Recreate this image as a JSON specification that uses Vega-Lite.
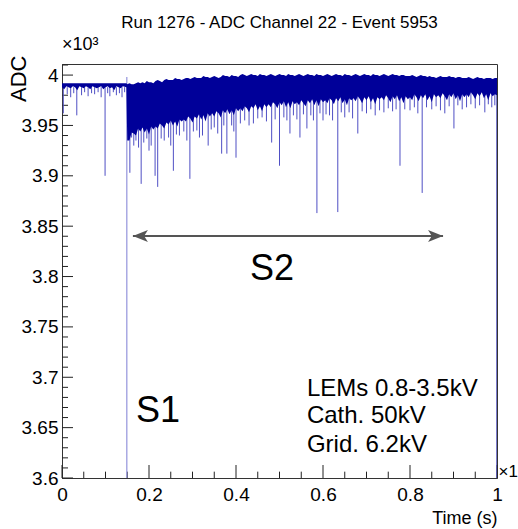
{
"$schema":"https://vega.github.io/schema/vega-lite/v6.json",
"width":435,"height":414,
"autosize":{"type":"none"},
"padding":{"left":62,"top":64,"right":21,"bottom":51},
"background":"white",
"title":{"text":"Run 1276 - ADC Channel 22 - Event 5953","font":"Liberation Sans","fontSize":17,"fontWeight":"normal","color":"black","anchor":"middle","frame":"group","offset":4},
"config":{
 "view":{"stroke":"#333","strokeWidth":1},
 "axis":{"labelFont":"Liberation Sans","labelFontSize":19,"titleFont":"Liberation Sans","titleFontSize":20,"titleFontWeight":"normal","labelColor":"black","titleColor":"black","domainColor":"#333","grid":false,"labelFlush":false,"labelOverlap":false}
},
"datasets":{
 "xmajor":[{"v":0},{"v":0.2},{"v":0.4},{"v":0.6},{"v":0.8},{"v":1}],
 "xminor":[{"v":0.05},{"v":0.1},{"v":0.15},{"v":0.25},{"v":0.3},{"v":0.35},{"v":0.45},{"v":0.5},{"v":0.55},{"v":0.65},{"v":0.7},{"v":0.75},{"v":0.85},{"v":0.9},{"v":0.95}],
 "ymajor":[{"v":3.6},{"v":3.65},{"v":3.7},{"v":3.75},{"v":3.8},{"v":3.85},{"v":3.9},{"v":3.95},{"v":4}],
 "yminor":[{"v":3.61},{"v":3.62},{"v":3.63},{"v":3.64},{"v":3.66},{"v":3.67},{"v":3.68},{"v":3.69},{"v":3.71},{"v":3.72},{"v":3.73},{"v":3.74},{"v":3.76},{"v":3.77},{"v":3.78},{"v":3.79},{"v":3.81},{"v":3.82},{"v":3.83},{"v":3.84},{"v":3.86},{"v":3.87},{"v":3.88},{"v":3.89},{"v":3.91},{"v":3.92},{"v":3.93},{"v":3.94},{"v":3.96},{"v":3.97},{"v":3.98},{"v":3.99},{"v":4.01}],
 "band":[
{"t":0.000,"hi":3.992,"lo":3.988},{"t":0.005,"hi":3.992,"lo":3.986},{"t":0.010,"hi":3.992,"lo":3.989},{"t":0.015,"hi":3.992,"lo":3.988},{"t":0.020,"hi":3.992,"lo":3.987},{"t":0.025,"hi":3.992,"lo":3.989},{"t":0.030,"hi":3.992,"lo":3.988},{"t":0.035,"hi":3.992,"lo":3.985},{"t":0.040,"hi":3.992,"lo":3.989},{"t":0.045,"hi":3.992,"lo":3.988},
{"t":0.050,"hi":3.992,"lo":3.987},{"t":0.055,"hi":3.992,"lo":3.989},{"t":0.060,"hi":3.992,"lo":3.988},{"t":0.065,"hi":3.992,"lo":3.986},{"t":0.070,"hi":3.992,"lo":3.989},{"t":0.075,"hi":3.992,"lo":3.988},{"t":0.080,"hi":3.992,"lo":3.987},{"t":0.085,"hi":3.992,"lo":3.988},{"t":0.090,"hi":3.992,"lo":3.989},{"t":0.095,"hi":3.992,"lo":3.986},
{"t":0.100,"hi":3.992,"lo":3.988},{"t":0.105,"hi":3.992,"lo":3.989},{"t":0.110,"hi":3.992,"lo":3.987},{"t":0.115,"hi":3.992,"lo":3.988},{"t":0.120,"hi":3.992,"lo":3.985},{"t":0.125,"hi":3.992,"lo":3.989},{"t":0.130,"hi":3.992,"lo":3.988},{"t":0.135,"hi":3.992,"lo":3.987},{"t":0.140,"hi":3.992,"lo":3.989},{"t":0.148,"hi":3.992,"lo":3.988},
{"t":0.150,"hi":3.991,"lo":3.935},{"t":0.155,"hi":3.992,"lo":3.935},{"t":0.160,"hi":3.991,"lo":3.943},{"t":0.165,"hi":3.991,"lo":3.942},{"t":0.170,"hi":3.992,"lo":3.940},{"t":0.175,"hi":3.993,"lo":3.947},{"t":0.180,"hi":3.992,"lo":3.944},{"t":0.185,"hi":3.993,"lo":3.948},{"t":0.190,"hi":3.992,"lo":3.943},{"t":0.195,"hi":3.994,"lo":3.947},
{"t":0.200,"hi":3.993,"lo":3.941},{"t":0.205,"hi":3.993,"lo":3.949},{"t":0.210,"hi":3.992,"lo":3.946},{"t":0.215,"hi":3.994,"lo":3.949},{"t":0.220,"hi":3.995,"lo":3.947},{"t":0.225,"hi":3.994,"lo":3.952},{"t":0.230,"hi":3.993,"lo":3.950},{"t":0.235,"hi":3.995,"lo":3.947},{"t":0.240,"hi":3.996,"lo":3.953},{"t":0.245,"hi":3.995,"lo":3.951},
{"t":0.250,"hi":3.995,"lo":3.955},{"t":0.255,"hi":3.995,"lo":3.950},{"t":0.260,"hi":3.997,"lo":3.954},{"t":0.265,"hi":3.996,"lo":3.949},{"t":0.270,"hi":3.996,"lo":3.956},{"t":0.275,"hi":3.995,"lo":3.954},{"t":0.280,"hi":3.996,"lo":3.956},{"t":0.285,"hi":3.997,"lo":3.954},{"t":0.290,"hi":3.997,"lo":3.959},{"t":0.295,"hi":3.996,"lo":3.957},
{"t":0.300,"hi":3.997,"lo":3.953},{"t":0.305,"hi":3.998,"lo":3.959},{"t":0.310,"hi":3.997,"lo":3.957},{"t":0.315,"hi":3.997,"lo":3.961},{"t":0.320,"hi":3.997,"lo":3.956},{"t":0.325,"hi":3.999,"lo":3.960},{"t":0.330,"hi":3.998,"lo":3.954},{"t":0.335,"hi":3.998,"lo":3.962},{"t":0.340,"hi":3.997,"lo":3.959},{"t":0.345,"hi":3.998,"lo":3.962},
{"t":0.350,"hi":3.999,"lo":3.959},{"t":0.355,"hi":3.998,"lo":3.964},{"t":0.360,"hi":3.997,"lo":3.962},{"t":0.365,"hi":3.998,"lo":3.958},{"t":0.370,"hi":4.000,"lo":3.965},{"t":0.375,"hi":3.999,"lo":3.962},{"t":0.380,"hi":3.999,"lo":3.966},{"t":0.385,"hi":3.998,"lo":3.961},{"t":0.390,"hi":4.000,"lo":3.965},{"t":0.395,"hi":3.999,"lo":3.960},
{"t":0.400,"hi":3.999,"lo":3.967},{"t":0.405,"hi":3.998,"lo":3.964},{"t":0.410,"hi":4.000,"lo":3.967},{"t":0.415,"hi":4.001,"lo":3.964},{"t":0.420,"hi":4.000,"lo":3.969},{"t":0.425,"hi":3.999,"lo":3.967},{"t":0.430,"hi":4.000,"lo":3.963},{"t":0.435,"hi":4.001,"lo":3.969},{"t":0.440,"hi":4.000,"lo":3.967},{"t":0.445,"hi":4.000,"lo":3.971},
{"t":0.450,"hi":3.999,"lo":3.965},{"t":0.455,"hi":4.001,"lo":3.969},{"t":0.460,"hi":4.000,"lo":3.964},{"t":0.465,"hi":4.000,"lo":3.971},{"t":0.470,"hi":3.999,"lo":3.968},{"t":0.475,"hi":4.000,"lo":3.971},{"t":0.480,"hi":4.001,"lo":3.968},{"t":0.485,"hi":4.000,"lo":3.973},{"t":0.490,"hi":3.999,"lo":3.971},{"t":0.495,"hi":4.000,"lo":3.967},
{"t":0.500,"hi":4.001,"lo":3.973},{"t":0.505,"hi":4.000,"lo":3.970},{"t":0.510,"hi":4.000,"lo":3.974},{"t":0.515,"hi":3.999,"lo":3.968},{"t":0.520,"hi":4.001,"lo":3.973},{"t":0.525,"hi":4.000,"lo":3.967},{"t":0.530,"hi":4.000,"lo":3.974},{"t":0.535,"hi":3.999,"lo":3.971},{"t":0.540,"hi":4.000,"lo":3.973},{"t":0.545,"hi":4.001,"lo":3.970},
{"t":0.550,"hi":4.000,"lo":3.975},{"t":0.555,"hi":3.999,"lo":3.972},{"t":0.560,"hi":4.000,"lo":3.969},{"t":0.565,"hi":4.001,"lo":3.975},{"t":0.570,"hi":4.000,"lo":3.972},{"t":0.575,"hi":4.000,"lo":3.976},{"t":0.580,"hi":3.999,"lo":3.970},{"t":0.585,"hi":4.001,"lo":3.975},{"t":0.590,"hi":4.000,"lo":3.969},{"t":0.595,"hi":4.000,"lo":3.976},
{"t":0.600,"hi":3.999,"lo":3.973},{"t":0.605,"hi":4.000,"lo":3.975},{"t":0.610,"hi":4.001,"lo":3.972},{"t":0.615,"hi":4.000,"lo":3.977},{"t":0.620,"hi":3.999,"lo":3.975},{"t":0.625,"hi":4.000,"lo":3.971},{"t":0.630,"hi":4.001,"lo":3.977},{"t":0.635,"hi":4.000,"lo":3.974},{"t":0.640,"hi":4.000,"lo":3.978},{"t":0.645,"hi":3.999,"lo":3.972},
{"t":0.650,"hi":4.001,"lo":3.976},{"t":0.655,"hi":4.000,"lo":3.970},{"t":0.660,"hi":4.000,"lo":3.977},{"t":0.665,"hi":3.999,"lo":3.975},{"t":0.670,"hi":4.000,"lo":3.977},{"t":0.675,"hi":4.001,"lo":3.974},{"t":0.680,"hi":4.000,"lo":3.979},{"t":0.685,"hi":3.999,"lo":3.976},{"t":0.690,"hi":4.000,"lo":3.972},{"t":0.695,"hi":4.001,"lo":3.978},
{"t":0.700,"hi":4.000,"lo":3.975},{"t":0.705,"hi":4.000,"lo":3.979},{"t":0.710,"hi":3.999,"lo":3.973},{"t":0.715,"hi":4.001,"lo":3.977},{"t":0.720,"hi":4.000,"lo":3.971},{"t":0.725,"hi":4.000,"lo":3.978},{"t":0.730,"hi":3.999,"lo":3.976},{"t":0.735,"hi":4.000,"lo":3.978},{"t":0.740,"hi":4.001,"lo":3.975},{"t":0.745,"hi":4.000,"lo":3.980},
{"t":0.750,"hi":3.999,"lo":3.977},{"t":0.755,"hi":4.000,"lo":3.973},{"t":0.760,"hi":4.001,"lo":3.979},{"t":0.765,"hi":4.000,"lo":3.976},{"t":0.770,"hi":4.000,"lo":3.980},{"t":0.775,"hi":3.999,"lo":3.974},{"t":0.780,"hi":4.000,"lo":3.978},{"t":0.785,"hi":4.000,"lo":3.972},{"t":0.790,"hi":3.999,"lo":3.979},{"t":0.795,"hi":3.999,"lo":3.976},
{"t":0.800,"hi":3.999,"lo":3.978},{"t":0.805,"hi":4.000,"lo":3.975},{"t":0.810,"hi":3.999,"lo":3.981},{"t":0.815,"hi":3.998,"lo":3.978},{"t":0.820,"hi":3.999,"lo":3.974},{"t":0.825,"hi":4.000,"lo":3.980},{"t":0.830,"hi":3.999,"lo":3.977},{"t":0.835,"hi":3.999,"lo":3.981},{"t":0.840,"hi":3.998,"lo":3.975},{"t":0.845,"hi":3.999,"lo":3.979},
{"t":0.850,"hi":3.998,"lo":3.973},{"t":0.855,"hi":3.998,"lo":3.981},{"t":0.860,"hi":3.997,"lo":3.978},{"t":0.865,"hi":3.998,"lo":3.980},{"t":0.870,"hi":3.999,"lo":3.977},{"t":0.875,"hi":3.998,"lo":3.982},{"t":0.880,"hi":3.998,"lo":3.979},{"t":0.885,"hi":3.998,"lo":3.975},{"t":0.890,"hi":3.999,"lo":3.981},{"t":0.895,"hi":3.998,"lo":3.978},
{"t":0.900,"hi":3.998,"lo":3.982},{"t":0.905,"hi":3.997,"lo":3.976},{"t":0.910,"hi":3.998,"lo":3.980},{"t":0.915,"hi":3.998,"lo":3.974},{"t":0.920,"hi":3.997,"lo":3.981},{"t":0.925,"hi":3.997,"lo":3.978},{"t":0.930,"hi":3.997,"lo":3.981},{"t":0.935,"hi":3.998,"lo":3.978},{"t":0.940,"hi":3.997,"lo":3.983},{"t":0.945,"hi":3.996,"lo":3.980},
{"t":0.950,"hi":3.997,"lo":3.976},{"t":0.955,"hi":3.998,"lo":3.982},{"t":0.960,"hi":3.997,"lo":3.979},{"t":0.965,"hi":3.997,"lo":3.983},{"t":0.970,"hi":3.996,"lo":3.977},{"t":0.975,"hi":3.997,"lo":3.981},{"t":0.980,"hi":3.997,"lo":3.975},{"t":0.985,"hi":3.997,"lo":3.982},{"t":0.990,"hi":3.996,"lo":3.979},{"t":0.995,"hi":3.997,"lo":3.981},
{"t":1.000,"hi":3.997,"lo":3.980}
 ],
 "spikes":[
{"t":0.003,"hi":3.988,"lo":3.962},{"t":0.012,"hi":3.988,"lo":3.981},{"t":0.020,"hi":3.988,"lo":3.978},{"t":0.027,"hi":3.988,"lo":3.982},{"t":0.034,"hi":3.988,"lo":3.960},{"t":0.045,"hi":3.988,"lo":3.980},{"t":0.052,"hi":3.988,"lo":3.983},{"t":0.060,"hi":3.988,"lo":3.979},{"t":0.068,"hi":3.988,"lo":3.982},{"t":0.075,"hi":3.988,"lo":3.981},
{"t":0.083,"hi":3.988,"lo":3.983},{"t":0.090,"hi":3.988,"lo":3.978},{"t":0.099,"hi":3.988,"lo":3.900},{"t":0.105,"hi":3.988,"lo":3.982},{"t":0.110,"hi":3.988,"lo":3.979},{"t":0.118,"hi":3.988,"lo":3.983},{"t":0.125,"hi":3.988,"lo":3.980},{"t":0.132,"hi":3.988,"lo":3.982},{"t":0.138,"hi":3.988,"lo":3.978},{"t":0.144,"hi":3.988,"lo":3.983},
{"t":0.156,"hi":3.988,"lo":3.903},{"t":0.160,"hi":3.988,"lo":3.938},{"t":0.165,"hi":3.988,"lo":3.930},{"t":0.170,"hi":3.988,"lo":3.935},{"t":0.176,"hi":3.988,"lo":3.928},{"t":0.182,"hi":3.988,"lo":3.892},{"t":0.188,"hi":3.988,"lo":3.933},{"t":0.195,"hi":3.988,"lo":3.937},{"t":0.200,"hi":3.988,"lo":3.925},{"t":0.205,"hi":3.988,"lo":3.930},
{"t":0.214,"hi":3.988,"lo":3.900},{"t":0.220,"hi":3.988,"lo":3.889},{"t":0.228,"hi":3.988,"lo":3.937},{"t":0.235,"hi":3.988,"lo":3.935},{"t":0.245,"hi":3.988,"lo":3.938},{"t":0.250,"hi":3.988,"lo":3.930},{"t":0.256,"hi":3.988,"lo":3.905},{"t":0.263,"hi":3.988,"lo":3.941},{"t":0.270,"hi":3.988,"lo":3.940},{"t":0.280,"hi":3.988,"lo":3.944},
{"t":0.287,"hi":3.988,"lo":3.935},{"t":0.294,"hi":3.988,"lo":3.897},{"t":0.302,"hi":3.988,"lo":3.944},{"t":0.310,"hi":3.988,"lo":3.945},{"t":0.316,"hi":3.988,"lo":3.938},{"t":0.323,"hi":3.988,"lo":3.940},{"t":0.336,"hi":3.988,"lo":3.930},{"t":0.343,"hi":3.988,"lo":3.946},{"t":0.350,"hi":3.988,"lo":3.948},{"t":0.358,"hi":3.988,"lo":3.942},
{"t":0.367,"hi":3.988,"lo":3.922},{"t":0.372,"hi":3.988,"lo":3.950},{"t":0.379,"hi":3.988,"lo":3.922},{"t":0.390,"hi":3.988,"lo":3.950},{"t":0.395,"hi":3.988,"lo":3.944},{"t":0.400,"hi":3.988,"lo":3.918},{"t":0.410,"hi":3.988,"lo":3.952},{"t":0.420,"hi":3.988,"lo":3.955},{"t":0.430,"hi":3.988,"lo":3.950},{"t":0.440,"hi":3.988,"lo":3.952},
{"t":0.450,"hi":3.988,"lo":3.957},{"t":0.460,"hi":3.988,"lo":3.958},{"t":0.470,"hi":3.988,"lo":3.954},{"t":0.482,"hi":3.988,"lo":3.933},{"t":0.490,"hi":3.988,"lo":3.956},{"t":0.500,"hi":3.988,"lo":3.910},{"t":0.510,"hi":3.988,"lo":3.958},{"t":0.517,"hi":3.988,"lo":3.955},{"t":0.524,"hi":3.988,"lo":3.942},{"t":0.532,"hi":3.988,"lo":3.960},
{"t":0.540,"hi":3.988,"lo":3.956},{"t":0.547,"hi":3.988,"lo":3.938},{"t":0.555,"hi":3.988,"lo":3.961},{"t":0.563,"hi":3.988,"lo":3.947},{"t":0.572,"hi":3.988,"lo":3.960},{"t":0.578,"hi":3.988,"lo":3.955},{"t":0.586,"hi":3.988,"lo":3.863},{"t":0.593,"hi":3.988,"lo":3.962},{"t":0.600,"hi":3.988,"lo":3.955},{"t":0.607,"hi":3.988,"lo":3.961},
{"t":0.615,"hi":3.988,"lo":3.960},{"t":0.622,"hi":3.988,"lo":3.955},{"t":0.634,"hi":3.988,"lo":3.864},{"t":0.642,"hi":3.988,"lo":3.963},{"t":0.650,"hi":3.988,"lo":3.958},{"t":0.660,"hi":3.988,"lo":3.963},{"t":0.668,"hi":3.988,"lo":3.957},{"t":0.680,"hi":3.988,"lo":3.942},{"t":0.690,"hi":3.988,"lo":3.964},{"t":0.700,"hi":3.988,"lo":3.962},
{"t":0.710,"hi":3.988,"lo":3.966},{"t":0.720,"hi":3.988,"lo":3.960},{"t":0.730,"hi":3.988,"lo":3.965},{"t":0.740,"hi":3.988,"lo":3.963},{"t":0.750,"hi":3.988,"lo":3.967},{"t":0.760,"hi":3.988,"lo":3.964},{"t":0.768,"hi":3.988,"lo":3.966},{"t":0.777,"hi":3.988,"lo":3.910},{"t":0.788,"hi":3.988,"lo":3.966},{"t":0.800,"hi":3.988,"lo":3.965},
{"t":0.810,"hi":3.988,"lo":3.968},{"t":0.818,"hi":3.988,"lo":3.962},{"t":0.828,"hi":3.988,"lo":3.883},{"t":0.838,"hi":3.988,"lo":3.968},{"t":0.850,"hi":3.988,"lo":3.966},{"t":0.860,"hi":3.988,"lo":3.969},{"t":0.870,"hi":3.988,"lo":3.965},{"t":0.880,"hi":3.988,"lo":3.962},{"t":0.890,"hi":3.988,"lo":3.969},{"t":0.901,"hi":3.988,"lo":3.947},
{"t":0.910,"hi":3.988,"lo":3.970},{"t":0.920,"hi":3.988,"lo":3.966},{"t":0.930,"hi":3.988,"lo":3.968},{"t":0.940,"hi":3.988,"lo":3.971},{"t":0.950,"hi":3.988,"lo":3.967},{"t":0.960,"hi":3.988,"lo":3.970},{"t":0.972,"hi":3.988,"lo":3.963},{"t":0.980,"hi":3.988,"lo":3.971},{"t":0.988,"hi":3.988,"lo":3.968},{"t":0.995,"hi":3.988,"lo":3.970}
 ]
},
"layer":[
 {"data":{"name":"xmajor"},"mark":{"type":"rule","color":"#222","strokeWidth":1},
  "encoding":{"x":{"field":"v","type":"quantitative","scale":{"domain":[0,1],"nice":false,"zero":false},"axis":null},
   "y":{"datum":3.6,"type":"quantitative","scale":{"domain":[3.6,4.011],"nice":false,"zero":false},"axis":null},"y2":{"datum":3.6129}}},
 {"data":{"name":"xminor"},"mark":{"type":"rule","color":"#222","strokeWidth":1},
  "encoding":{"x":{"field":"v","type":"quantitative","scale":{"domain":[0,1],"nice":false,"zero":false},"axis":null},
   "y":{"datum":3.6,"type":"quantitative","scale":{"domain":[3.6,4.011],"nice":false,"zero":false},"axis":null},"y2":{"datum":3.6063}}},
 {"data":{"name":"ymajor"},"mark":{"type":"rule","color":"#222","strokeWidth":1},
  "encoding":{"y":{"field":"v","type":"quantitative","scale":{"domain":[3.6,4.011],"nice":false,"zero":false},"axis":null},
   "x":{"datum":0,"type":"quantitative","scale":{"domain":[0,1],"nice":false,"zero":false},"axis":null},"x2":{"datum":0.0253}}},
 {"data":{"name":"yminor"},"mark":{"type":"rule","color":"#222","strokeWidth":1},
  "encoding":{"y":{"field":"v","type":"quantitative","scale":{"domain":[3.6,4.011],"nice":false,"zero":false},"axis":null},
   "x":{"datum":0,"type":"quantitative","scale":{"domain":[0,1],"nice":false,"zero":false},"axis":null},"x2":{"datum":0.0138}}},
 {"data":{"name":"spikes"},"mark":{"type":"rule","color":"#4f4fc4","strokeWidth":1,"clip":true},
  "encoding":{
   "x":{"field":"t","type":"quantitative","scale":{"domain":[0,1],"nice":false,"zero":false},"axis":null},
   "y":{"field":"lo","type":"quantitative","scale":{"domain":[3.6,4.011],"nice":false,"zero":false},"axis":null},
   "y2":{"field":"hi"}}},
 {"data":{"values":[{"t":0.149,"hi":3.998,"lo":3.55}]},"mark":{"type":"rule","color":"#9393dc","strokeWidth":1.2,"clip":true},
  "encoding":{"x":{"field":"t","type":"quantitative","scale":{"domain":[0,1],"nice":false,"zero":false},"axis":null},
   "y":{"field":"lo","type":"quantitative","scale":{"domain":[3.6,4.011],"nice":false,"zero":false},"axis":null},"y2":{"field":"hi"}}},
 {"data":{"values":[{"t":0.9995,"hi":3.985,"lo":3.55}]},"mark":{"type":"rule","color":"#4646b8","strokeWidth":1,"clip":true},
  "encoding":{"x":{"field":"t","type":"quantitative","scale":{"domain":[0,1],"nice":false,"zero":false},"axis":null},
   "y":{"field":"lo","type":"quantitative","scale":{"domain":[3.6,4.011],"nice":false,"zero":false},"axis":null},"y2":{"field":"hi"}}},
 {"data":{"name":"band"},"mark":{"type":"area","color":"#000099","opacity":1,"clip":true},
  "encoding":{
   "x":{"field":"t","type":"quantitative","scale":{"domain":[0,1],"nice":false,"zero":false},
        "axis":{"orient":"bottom","values":[0,0.2,0.4,0.6,0.8,1],"format":"~g","ticks":false,"labelPadding":7,"title":"Time (s)","titleFontSize":18,"titleAnchor":"end","titleAlign":"right","titleX":435,"titleY":45,"titleBaseline":"alphabetic"}},
   "y":{"field":"hi","type":"quantitative","scale":{"domain":[3.6,4.011],"nice":false,"zero":false},
        "axis":{"orient":"left","values":[3.6,3.65,3.7,3.75,3.8,3.85,3.9,3.95,4],"format":"~g","ticks":false,"labelPadding":4,"title":"ADC","titleFontSize":22,"titleAngle":-90,"titleX":-37,"titleY":-9,"titleAlign":"right","titleBaseline":"alphabetic"}},
   "y2":{"field":"lo"}}},
 {"data":{"values":[{"t1":0.163,"t2":0.876,"v":3.8402}]},"mark":{"type":"rule","color":"#555555","strokeWidth":2},
  "encoding":{"x":{"field":"t1","type":"quantitative","scale":{"domain":[0,1],"nice":false,"zero":false},"axis":null},"x2":{"field":"t2"},
   "y":{"field":"v","type":"quantitative","scale":{"domain":[3.6,4.011],"nice":false,"zero":false},"axis":null}}},
 {"data":{"values":[{"t":0.163,"v":3.8402}]},"mark":{"type":"point","shape":"M0,0L2,-0.8L1.5,0L2,0.8Z","size":225,"filled":true,"color":"#555555","opacity":1,"strokeWidth":0},
  "encoding":{"x":{"field":"t","type":"quantitative","scale":{"domain":[0,1],"nice":false,"zero":false},"axis":null},
   "y":{"field":"v","type":"quantitative","scale":{"domain":[3.6,4.011],"nice":false,"zero":false},"axis":null}}},
 {"data":{"values":[{"t":0.876,"v":3.8402}]},"mark":{"type":"point","shape":"M0,0L-2,-0.8L-1.5,0L-2,0.8Z","size":225,"filled":true,"color":"#555555","opacity":1,"strokeWidth":0},
  "encoding":{"x":{"field":"t","type":"quantitative","scale":{"domain":[0,1],"nice":false,"zero":false},"axis":null},
   "y":{"field":"v","type":"quantitative","scale":{"domain":[3.6,4.011],"nice":false,"zero":false},"axis":null}}},
 {"data":{"values":[{"t":0.170,"v":3.6556,"label":"S1"},{"t":0.432,"v":3.7965,"label":"S2"}]},
  "mark":{"type":"text","align":"left","baseline":"alphabetic","font":"Liberation Sans","fontSize":36,"color":"black"},
  "encoding":{"x":{"field":"t","type":"quantitative","scale":{"domain":[0,1],"nice":false,"zero":false},"axis":null},
   "y":{"field":"v","type":"quantitative","scale":{"domain":[3.6,4.011],"nice":false,"zero":false},"axis":null},"text":{"field":"label"}}},
 {"data":{"values":[{"t":0.563,"v":3.6814,"label":"LEMs 0.8-3.5kV"},{"t":0.563,"v":3.6546,"label":"Cath. 50kV"},{"t":0.563,"v":3.6258,"label":"Grid. 6.2kV"}]},
  "mark":{"type":"text","align":"left","baseline":"alphabetic","font":"Liberation Sans","fontSize":24,"color":"black"},
  "encoding":{"x":{"field":"t","type":"quantitative","scale":{"domain":[0,1],"nice":false,"zero":false},"axis":null},
   "y":{"field":"v","type":"quantitative","scale":{"domain":[3.6,4.011],"nice":false,"zero":false},"axis":null},"text":{"field":"label"}}},
 {"data":{"values":[{"t":0,"v":4.0248,"label":"×10³"}]},
  "mark":{"type":"text","align":"left","baseline":"alphabetic","font":"Liberation Sans","fontSize":18,"color":"black"},
  "encoding":{"x":{"field":"t","type":"quantitative","scale":{"domain":[0,1],"nice":false,"zero":false},"axis":null},
   "y":{"field":"v","type":"quantitative","scale":{"domain":[3.6,4.011],"nice":false,"zero":false},"axis":null},"text":{"field":"label"}}},
 {"data":{"values":[{"t":1.0034,"v":3.601,"label":"×1"}]},
  "mark":{"type":"text","align":"left","baseline":"alphabetic","font":"Liberation Sans","fontSize":17,"color":"black"},
  "encoding":{"x":{"field":"t","type":"quantitative","scale":{"domain":[0,1],"nice":false,"zero":false},"axis":null},
   "y":{"field":"v","type":"quantitative","scale":{"domain":[3.6,4.011],"nice":false,"zero":false},"axis":null},"text":{"field":"label"}}}
],
"resolve":{"axis":{"x":"independent","y":"independent"}}
}
